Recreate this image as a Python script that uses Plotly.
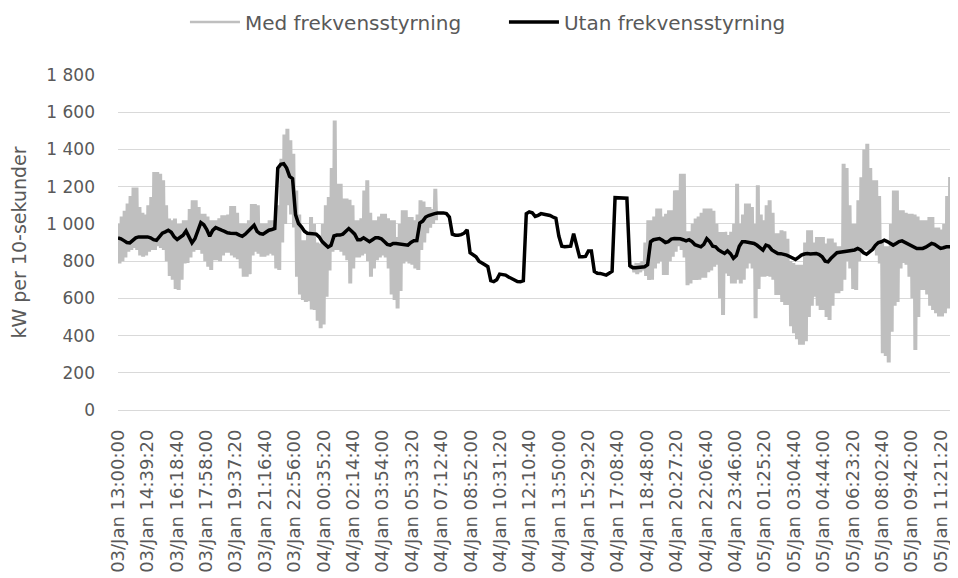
import re
import plotly.graph_objects as go

# ---------------- data ----------------
SLOT_MINUTES = 10  # one value per 10 minutes, starting 03/Jan 13:00:00

tick_labels = [
    "03/Jan 13:00:00", "03/Jan 14:39:20", "03/Jan 16:18:40", "03/Jan 17:58:00",
    "03/Jan 19:37:20", "03/Jan 21:16:40", "03/Jan 22:56:00", "04/Jan 00:35:20",
    "04/Jan 02:14:40", "04/Jan 03:54:00", "04/Jan 05:33:20", "04/Jan 07:12:40",
    "04/Jan 08:52:00", "04/Jan 10:31:20", "04/Jan 12:10:40", "04/Jan 13:50:00",
    "04/Jan 15:29:20", "04/Jan 17:08:40", "04/Jan 18:48:00", "04/Jan 20:27:20",
    "04/Jan 22:06:40", "04/Jan 23:46:00", "05/Jan 01:25:20", "05/Jan 03:04:40",
    "05/Jan 04:44:00", "05/Jan 06:23:20", "05/Jan 08:02:40", "05/Jan 09:42:00",
    "05/Jan 11:21:20",
]

# "Utan frekvensstyrning" (kW per 10 s), one value per slot
utan = [
    925, 920, 910, 900, 898, 910, 925, 930, 930, 928,
    930, 925, 915, 912, 930, 950, 957, 966, 955, 930,
    916, 925, 939, 962, 930, 898, 920, 960, 1007, 995,
    970, 934, 965, 980, 975, 966, 960, 952, 950, 948,
    948, 940, 934, 945, 962, 975, 993, 960, 948, 945,
    955, 966, 970, 975, 1300, 1320, 1323, 1300, 1255, 1243,
    1050, 1002, 984, 960, 950, 948, 948, 945, 930, 905,
    890, 875, 885, 935, 940, 940, 945, 960, 975, 960,
    945, 915, 915, 925, 912, 904, 915, 925, 925, 920,
    905, 890, 886, 895, 895, 893, 890, 888, 886, 900,
    909, 910, 1005, 1015, 1037, 1045, 1052, 1055, 1058, 1059,
    1059, 1055, 1037, 945, 939, 939, 942, 950, 968, 845,
    835, 823, 800, 787, 780, 770, 695, 690, 700, 730,
    728, 725, 715, 707, 700, 690, 689, 695, 1055, 1065,
    1060, 1040, 1046, 1055, 1052, 1050, 1045, 1037, 1030, 935,
    880, 877, 877, 880, 948, 880, 823, 823, 825, 855,
    855, 745, 735, 734, 728, 725, 735, 745, 1141, 1141,
    1141, 1141, 1138, 775, 765, 765, 768, 768, 770, 780,
    904, 915, 920, 921, 912, 900, 905, 918, 921, 921,
    920, 915, 909, 915, 905, 888, 880, 877, 890, 921,
    905, 880, 877, 860, 850, 841, 855, 840, 815, 830,
    880, 904, 904, 900, 898, 895, 885, 870, 859, 886,
    880, 860, 850, 841, 840, 838, 832, 825, 815, 809,
    820, 832, 838, 841, 838, 841, 841, 835, 823, 800,
    796, 815, 830, 845, 848, 850, 850, 852, 855, 860,
    868, 860, 845, 837, 850, 862, 885, 900, 904, 912,
    905, 895, 886, 895, 905, 909, 900, 892, 886, 875,
    868, 868, 868, 875, 885, 895, 890, 878, 868, 872,
    877, 877, 877,
]

N = None
# "Med frekvensstyrning": highest value within each slot
med_high = [
    1000, 1040, 1070, 1110, 1150, 1195, 1195, 1090, 1060, 1050,
    1100, 1145, 1279, 1279, 1270, 1234, 1100, 1029, 1020, 1029,
    1000, 1000, 1020, 1020, 1080, 1127, 1127, 1090, 1055, 1055,
    1040, 1020, 1020, 1020, 1030, 1046, 1046, 1050, 1096, 1096,
    1060, 1002, 1002, 1000, 1020, 1107, 1107, 1100, 1002, 1002,
    1002, 1020, 1020, 1010, 1100, 1350, 1480, 1511, 1450, 1377,
    1180, 1050, 912, 912, 950, 1037, 1000, 900, 895, 1000,
    1100, 1145, 1300, 1555, 1216, 1216, 1136, 1136, 1130, 1100,
    1020, 1020, 1030, 1180, 1234, 1060, 1020, 1020, 1040, 1055,
    1055, 1030, 1020, 1020, 930, 1000, 1073, 1073, 1037, 1037,
    1020, 1050, 1127, 1120, 1091, 1091, 1080, 1189, N, N,
    N, N, N, N, N, N, N, N, N, N,
    N, N, N, N, N, N, N, N, N, N,
    N, N, N, N, N, N, N, N, N, N,
    N, N, N, N, N, N, N, N, N, N,
    N, N, N, N, N, N, N, N, N, N,
    N, N, N, N, N, N, N, N, N, N,
    N, N, N, 780, 780, 790, 790, 800, 900, 1020,
    1020, 1040, 1082, 1082, 1040, 1055, 1073, 1073, 1180, 1180,
    1270, 1270, 960, 960, 1000, 1029, 1040, 1060, 1082, 1082,
    1082, 1070, 1000, 957, 957, 957, 940, 957, 1000, 1216,
    1000, 1050, 1109, 1109, 1090, 1000, 1207, 1050, 1020, 1100,
    1127, 1060, 950, 950, 966, 960, 920, 800, 790, 780,
    780, 780, 900, 966, 966, 900, 930, 930, 930, 895,
    921, 921, 900, 880, 880, 1323, 1300, 1100, 1000, 1000,
    1127, 1250, 1400, 1430, 1300, 1234, 1234, 1150, 900, 880,
    880, 1000, 1180, 1180, 1073, 1073, 1060, 1055, 1055, 1050,
    1040, 1020, 1020, 1020, 1037, 1037, 980, 980, 970, 1000,
    1150, 1252, 1073,
]
# "Med frekvensstyrning": lowest value within each slot
med_low = [
    787, 800, 820, 850, 860, 870, 860, 830, 823, 830,
    850, 860, 860, 880, 870, 860, 800, 720, 700, 650,
    645, 700, 787, 790, 820, 850, 860, 860, 840, 800,
    770, 752, 805, 805, 800, 830, 845, 845, 830, 820,
    810, 760, 716, 716, 730, 830, 850, 840, 823, 823,
    830, 840, 830, 760, 752, 900, 1000, 1100, 1050, 980,
    716, 620, 591, 580, 585, 540, 537, 480, 439, 460,
    609, 750, 850, 860, 860, 850, 830, 805, 680, 760,
    820, 820, 830, 840, 800, 716, 760, 805, 820, 830,
    820, 760, 620, 591, 546, 640, 787, 800, 787, 780,
    760, 752, 860, 900, 950, 980, 1000, 1020, N, N,
    N, N, N, N, N, N, N, N, N, N,
    N, N, N, N, N, N, N, N, N, N,
    N, N, N, N, N, N, N, N, N, N,
    N, N, N, N, N, N, N, N, N, N,
    N, N, N, N, N, N, N, N, N, N,
    N, N, N, N, N, N, N, N, N, N,
    N, N, N, 760, 740, 730, 740, 750, 720, 698,
    700, 760, 787, 800, 725, 725, 800, 823, 850, 880,
    860, 820, 671, 680, 698, 698, 700, 710, 710, 740,
    750, 770, 780, 600, 511, 734, 720, 680, 680, 700,
    680, 700, 760, 787, 760, 493, 650, 716, 716, 720,
    716, 700, 618, 618, 580, 564, 564, 450, 412, 380,
    350, 350, 370, 500, 560, 609, 560, 537, 537, 500,
    484, 560, 627, 627, 640, 700, 800, 760, 650, 645,
    800, 850, 859, 859, 860, 859, 830, 787, 305, 290,
    255, 420, 560, 580, 760, 790, 780, 716, 600, 323,
    500, 645, 645, 620, 560, 537, 520, 502, 502, 520,
    546, 546, 560,
]

# ---------------- build traces ----------------
def label_minutes(label):
    d, h, mi, s = map(int, re.match(r"(\d+)/Jan (\d+):(\d+):(\d+)", label).groups())
    return (d - 3) * 1440 + (h - 13) * 60 + mi + s / 60.0

tick_vals = [label_minutes(t) for t in tick_labels]

utan_x = [i * SLOT_MINUTES for i in range(len(utan))]

# the 10-second series swings between its low and high within every slot
med_x, med_y = [], []
for i, (hi, lo) in enumerate(zip(med_high, med_low)):
    x0 = i * SLOT_MINUTES
    if hi is None:
        med_x.append(x0)
        med_y.append(None)
        continue
    q = SLOT_MINUTES / 4
    med_x += [x0, x0 + q, x0 + 2 * q, x0 + 3 * q]
    med_y += [hi, lo, hi, lo]

FONT = "DejaVu Sans"
TXT = "#595959"

fig = go.Figure()
fig.add_trace(go.Scatter(
    x=med_x, y=med_y, mode="lines", name="Med frekvensstyrning",
    line=dict(color="#BFBFBF", width=2.5), connectgaps=False,
))
fig.add_trace(go.Scatter(
    x=utan_x, y=utan, mode="lines", name="Utan frekvensstyrning",
    line=dict(color="#000000", width=3.5),
))

fig.update_layout(
    width=950, height=570,
    margin=dict(l=110, r=3, t=67, b=168, autoexpand=False),
    paper_bgcolor="white", plot_bgcolor="white",
    separators=", ",
    font=dict(family=FONT, color=TXT, size=15),
    showlegend=True,
    legend=dict(
        orientation="h", x=0.08, y=1.158, xanchor="left", yanchor="middle",
        font=dict(family=FONT, size=20, color=TXT), bgcolor="rgba(0,0,0,0)",
        itemwidth=50, entrywidth=254,
    ),
    xaxis=dict(
        range=[0, 2829], tickmode="array", tickvals=tick_vals, ticktext=tick_labels,
        tickangle=-90, showgrid=False, zeroline=False, showline=False, ticks="",
        tickfont=dict(family=FONT, size=18, color=TXT), ticklabelstandoff=15,
        automargin=False,
    ),
    yaxis=dict(
        range=[0, 1800], dtick=200, tick0=0, separatethousands=True,
        showgrid=True, gridcolor="#D9D9D9", gridwidth=1,
        zeroline=True, zerolinecolor="#D9D9D9", zerolinewidth=1,
        showline=False, ticks="", ticklabelstandoff=22,
        tickfont=dict(family=FONT, size=17, color=TXT), automargin=False,
        title=dict(text="kW per 10-sekunder", font=dict(family=FONT, size=19, color=TXT), standoff=14),
    ),
)

fig.write_html("out.html")
